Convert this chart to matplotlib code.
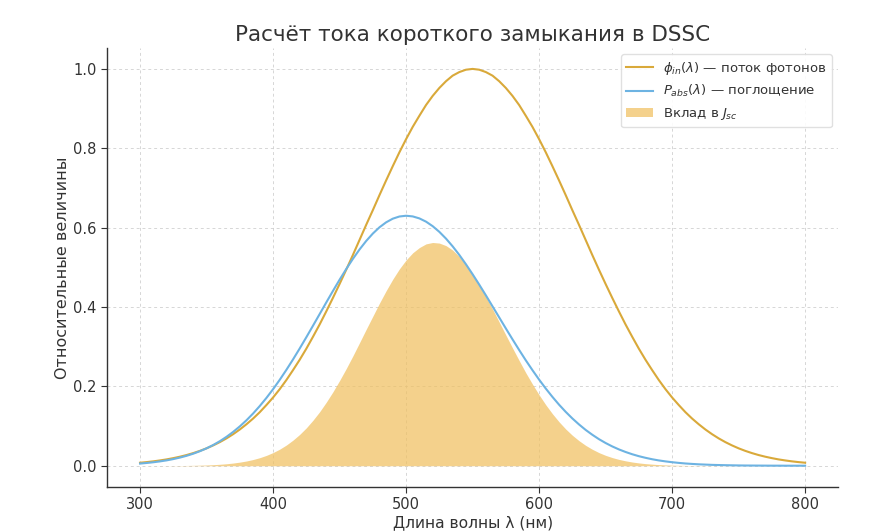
import matplotlib
matplotlib.use("Agg")
import matplotlib.pyplot as plt

# wavelength grid, nm (5 nm steps, 300..800)
wavelength = list(range(300, 801, 5))

# photon flux, relative
phi_in = [0.0076, 0.0092, 0.0111, 0.0134, 0.0160, 0.0192, 0.0228, 0.0270, 0.0319, 0.0375,
          0.0439, 0.0513, 0.0596, 0.0690, 0.0796, 0.0914, 0.1046, 0.119, 0.135, 0.153,
          0.172, 0.193, 0.216, 0.241, 0.267, 0.295, 0.325, 0.356, 0.389, 0.423,
          0.458, 0.494, 0.531, 0.569, 0.607, 0.644, 0.682, 0.719, 0.755, 0.790,
          0.823, 0.854, 0.882, 0.909, 0.932, 0.952, 0.969, 0.983, 0.992, 0.998,
          1.000,
          0.998, 0.992, 0.983, 0.969, 0.952, 0.932, 0.909, 0.882, 0.854, 0.823,
          0.790, 0.755, 0.719, 0.682, 0.644, 0.607, 0.569, 0.531, 0.494, 0.458,
          0.423, 0.389, 0.356, 0.325, 0.295, 0.267, 0.241, 0.216, 0.193, 0.172,
          0.153, 0.135, 0.119, 0.1046, 0.0914, 0.0796, 0.0690, 0.0596, 0.0513, 0.0439,
          0.0375, 0.0319, 0.0270, 0.0228, 0.0192, 0.0160, 0.0134, 0.0111, 0.0092, 0.0076]

# absorption, relative
p_abs = [0.0055, 0.0070, 0.0088, 0.0110, 0.0136, 0.0168, 0.0206, 0.0251, 0.0304, 0.0367,
         0.0439, 0.0523, 0.0619, 0.0729, 0.0853, 0.0992, 0.1146, 0.1317, 0.1505, 0.1709,
         0.1929, 0.2165, 0.2416, 0.2679, 0.2954, 0.3238, 0.3528, 0.3821, 0.4115, 0.4404,
         0.4687, 0.4957, 0.5213, 0.5450, 0.5664, 0.5851, 0.6009, 0.6134, 0.6226, 0.6281,
         0.6300,
         0.6283, 0.6233, 0.6151, 0.6037, 0.5894, 0.5724, 0.5529, 0.5313, 0.5077, 0.4826,
         0.4564, 0.4293, 0.4016, 0.3738, 0.3460, 0.3186, 0.2918, 0.2657, 0.2409, 0.2171,
         0.1946, 0.1736, 0.1539, 0.1358, 0.1192, 0.1041, 0.0903, 0.0781, 0.0670, 0.0573,
         0.0487, 0.0412, 0.0347, 0.0290, 0.0241, 0.0200, 0.0164, 0.0134, 0.0110, 0.0089,
         0.0072, 0.0057, 0.0046, 0.0036, 0.0029, 0.0022, 0.0018, 0.0014, 0.0011, 0.0008,
         0.0006, 0.0005, 0.0004, 0.0003, 0.0002, 0.0002, 0.0001, 0.0001, 0.0001, 0.0001]

# contribution to Jsc (filled area)
jsc_contrib = [0.0000, 0.0001, 0.0001, 0.0002, 0.0002, 0.0003, 0.0005, 0.0007, 0.0010, 0.0014,
               0.0019, 0.0027, 0.0037, 0.0050, 0.0068, 0.0091, 0.0120, 0.0157, 0.0203, 0.0261,
               0.0332, 0.0418, 0.0522, 0.0646, 0.0789, 0.0955, 0.1147, 0.1360, 0.1601, 0.1863,
               0.2147, 0.2449, 0.2768, 0.3101, 0.3438, 0.3768, 0.4098, 0.4410, 0.4701, 0.4962,
               0.5185, 0.5366, 0.5498, 0.5591, 0.5626, 0.5611, 0.5547, 0.5435, 0.5270, 0.5067,
               0.4826, 0.4555, 0.4259, 0.3948, 0.3622, 0.3294, 0.2969, 0.2652, 0.2343, 0.2057,
               0.1787, 0.1537, 0.1311, 0.1107, 0.0926, 0.0768, 0.0632, 0.0514, 0.0415, 0.0331,
               0.0262, 0.0206, 0.0160, 0.0124, 0.0094, 0.0071, 0.0053, 0.0040, 0.0029, 0.0021,
               0.0015, 0.0011, 0.0008, 0.0005, 0.0004, 0.0003, 0.0002, 0.0001, 0.0001, 0.0001,
               0.0000, 0.0000, 0.0000, 0.0000, 0.0000, 0.0000, 0.0000, 0.0000, 0.0000, 0.0000,
               0.0000]

x_ticks = [300, 400, 500, 600, 700, 800]
y_ticks = [0.0, 0.2, 0.4, 0.6, 0.8, 1.0]

title = "Расчёт тока короткого замыкания в DSSC"
xlabel = "Длина волны λ (нм)"
ylabel = "Относительные величины"
labels = [r"$\phi_{in}(\lambda)$ — поток фотонов",
          r"$P_{abs}(\lambda)$ — поглощение",
          r"Вклад в $J_{sc}$"]

plt.rcParams['font.family'] = ['DejaVu Sans']

fig = plt.figure(figsize=(8.9, 5.32), dpi=100)
ax = fig.add_axes([0.120, 0.085, 0.822, 0.825])

ax.plot(wavelength, phi_in, color="#D9A93A", lw=1.5, label=labels[0], zorder=3)
ax.plot(wavelength, p_abs, color="#6DB3E2", lw=1.5, label=labels[1], zorder=3)
ax.fill_between(wavelength, 0, jsc_contrib, color="#F0C060", alpha=0.72,
                linewidth=0, label=labels[2], zorder=2)

ax.set_xlim(275, 825)
ax.set_ylim(-0.053, 1.053)
ax.set_xticks(x_ticks)
ax.set_yticks(y_ticks)

ax.grid(True, linestyle=(0, (3, 3)), color="#cccccc", linewidth=0.7, alpha=0.8)
for s in ["top", "right"]:
    ax.spines[s].set_visible(False)
for s in ["left", "bottom"]:
    ax.spines[s].set_color("#333333")
    ax.spines[s].set_linewidth(1.0)

ax.tick_params(axis="both", labelsize=10.5, colors="#333333", length=4)
ax.set_title(title, fontsize=15.5, color="#333333", pad=5)
ax.set_xlabel(xlabel, fontsize=11.2, color="#333333", labelpad=2)
ax.set_ylabel(ylabel, fontsize=11.5, color="#333333", labelpad=2)

leg = ax.legend(loc="upper right", fontsize=9.5, frameon=True, framealpha=0.9,
                edgecolor="#dddddd", handlelength=2.0)
for t in leg.get_texts():
    t.set_color("#333333")

fig.savefig("out.png", dpi=100)
